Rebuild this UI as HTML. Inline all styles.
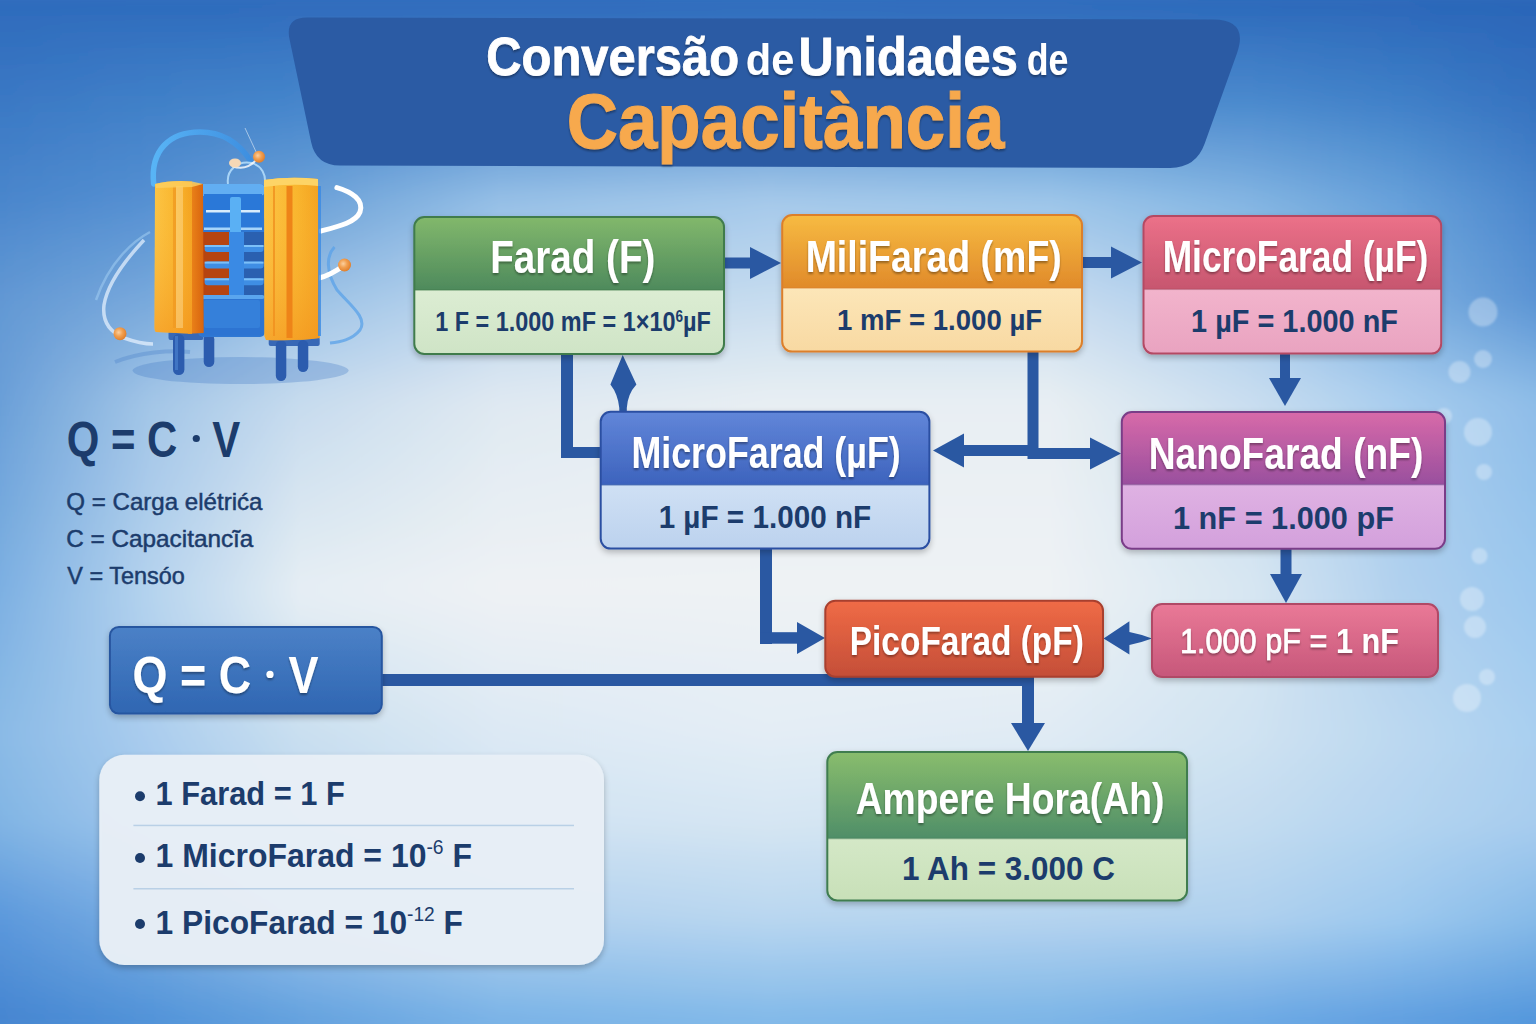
<!DOCTYPE html>
<html><head><meta charset="utf-8"><style>
html,body{margin:0;padding:0;width:1536px;height:1024px;overflow:hidden;background:#8dbbe6}
svg{display:block}
text{font-family:"Liberation Sans",sans-serif}
</style></head><body>
<svg width="1536" height="1024" viewBox="0 0 1536 1024">
<defs>
<linearGradient id="bgv" x1="0" y1="0" x2="0" y2="1024" gradientUnits="userSpaceOnUse">
 <stop offset="0" stop-color="#2b66b9"/>
 <stop offset="0.15" stop-color="#3f7ec8"/>
 <stop offset="0.35" stop-color="#6aa2dc"/>
 <stop offset="0.58" stop-color="#84b7e6"/>
 <stop offset="0.82" stop-color="#7ab2e6"/>
 <stop offset="1" stop-color="#4f91da"/>
</linearGradient>
<radialGradient id="bgr" cx="790" cy="555" r="800" gradientUnits="userSpaceOnUse" gradientTransform="translate(790 555) scale(1 0.7) translate(-790 -555)">
 <stop offset="0" stop-color="#f3f4f5" stop-opacity="1"/>
 <stop offset="0.4" stop-color="#eef2f5" stop-opacity="1"/>
 <stop offset="0.6" stop-color="#e4edf5" stop-opacity="0.8"/>
 <stop offset="0.8" stop-color="#d8e7f4" stop-opacity="0.4"/>
 <stop offset="1" stop-color="#d0e2f3" stop-opacity="0"/>
</radialGradient>
<filter id="sh" x="-10%" y="-10%" width="120%" height="130%">
 <feGaussianBlur in="SourceAlpha" stdDeviation="3"/>
 <feOffset dx="0" dy="3" result="b"/>
 <feComponentTransfer><feFuncA type="linear" slope="0.25"/></feComponentTransfer>
 <feMerge><feMergeNode/><feMergeNode in="SourceGraphic"/></feMerge>
</filter>
<filter id="tsh" x="-5%" y="-20%" width="110%" height="140%">
 <feGaussianBlur in="SourceAlpha" stdDeviation="1.2"/>
 <feOffset dx="0" dy="1.5" result="b"/>
 <feComponentTransfer><feFuncA type="linear" slope="0.35"/></feComponentTransfer>
 <feMerge><feMergeNode/><feMergeNode in="SourceGraphic"/></feMerge>
</filter>

<linearGradient id="bg0" x1="0" y1="0" x2="1536" y2="0" gradientUnits="userSpaceOnUse"><stop offset="0.0000" stop-color="#2e6bbc"/><stop offset="0.0977" stop-color="#2e6bbc"/><stop offset="0.1953" stop-color="#2e6bbc"/><stop offset="0.3255" stop-color="#2e6bbc"/><stop offset="0.5000" stop-color="#2f6cbd"/><stop offset="0.6836" stop-color="#2e6bbc"/><stop offset="0.8138" stop-color="#2c69ba"/><stop offset="0.9115" stop-color="#2b67b9"/><stop offset="1.0000" stop-color="#2a65b7"/></linearGradient>
<linearGradient id="bg1" x1="0" y1="0" x2="1536" y2="0" gradientUnits="userSpaceOnUse"><stop offset="0.0000" stop-color="#2f6cbd"/><stop offset="0.0977" stop-color="#2f6dbd"/><stop offset="0.1953" stop-color="#306dbd"/><stop offset="0.3255" stop-color="#306dbd"/><stop offset="0.5000" stop-color="#316ebe"/><stop offset="0.6836" stop-color="#306dbd"/><stop offset="0.8138" stop-color="#2e6cbc"/><stop offset="0.9115" stop-color="#2d69ba"/><stop offset="1.0000" stop-color="#2b66b8"/></linearGradient>
<linearGradient id="bg2" x1="0" y1="0" x2="1536" y2="0" gradientUnits="userSpaceOnUse"><stop offset="0.0000" stop-color="#316ebe"/><stop offset="0.0977" stop-color="#3270bf"/><stop offset="0.1953" stop-color="#3471c0"/><stop offset="0.3255" stop-color="#3572c0"/><stop offset="0.5000" stop-color="#3673c1"/><stop offset="0.6836" stop-color="#3572c0"/><stop offset="0.8138" stop-color="#3371bf"/><stop offset="0.9115" stop-color="#306dbd"/><stop offset="1.0000" stop-color="#2d68b9"/></linearGradient>
<linearGradient id="bg3" x1="0" y1="0" x2="1536" y2="0" gradientUnits="userSpaceOnUse"><stop offset="0.0000" stop-color="#3370bf"/><stop offset="0.0977" stop-color="#3573c1"/><stop offset="0.1953" stop-color="#3775c2"/><stop offset="0.3255" stop-color="#3977c2"/><stop offset="0.5000" stop-color="#3b78c3"/><stop offset="0.6836" stop-color="#3a77c3"/><stop offset="0.8138" stop-color="#3876c2"/><stop offset="0.9115" stop-color="#3371bf"/><stop offset="1.0000" stop-color="#2e6abb"/></linearGradient>
<linearGradient id="bg4" x1="0" y1="0" x2="1536" y2="0" gradientUnits="userSpaceOnUse"><stop offset="0.0000" stop-color="#3572c0"/><stop offset="0.0977" stop-color="#3877c3"/><stop offset="0.1953" stop-color="#3b7ac4"/><stop offset="0.3255" stop-color="#3e7bc5"/><stop offset="0.5000" stop-color="#3f7dc6"/><stop offset="0.6836" stop-color="#3f7cc6"/><stop offset="0.8138" stop-color="#3d7bc5"/><stop offset="0.9115" stop-color="#3675c1"/><stop offset="1.0000" stop-color="#306cbc"/></linearGradient>
<linearGradient id="bg5" x1="0" y1="0" x2="1536" y2="0" gradientUnits="userSpaceOnUse"><stop offset="0.0000" stop-color="#3774c2"/><stop offset="0.0977" stop-color="#3b7ac5"/><stop offset="0.1953" stop-color="#3f7ec7"/><stop offset="0.3255" stop-color="#4280c8"/><stop offset="0.5000" stop-color="#4482c9"/><stop offset="0.6836" stop-color="#4481c8"/><stop offset="0.8138" stop-color="#4280c8"/><stop offset="0.9115" stop-color="#3979c4"/><stop offset="1.0000" stop-color="#326ebd"/></linearGradient>
<linearGradient id="bg6" x1="0" y1="0" x2="1536" y2="0" gradientUnits="userSpaceOnUse"><stop offset="0.0000" stop-color="#3976c3"/><stop offset="0.0977" stop-color="#3e7dc7"/><stop offset="0.1953" stop-color="#4282c9"/><stop offset="0.3255" stop-color="#4785ca"/><stop offset="0.5000" stop-color="#4986cb"/><stop offset="0.6836" stop-color="#4886cb"/><stop offset="0.8138" stop-color="#4685cb"/><stop offset="0.9115" stop-color="#3d7dc6"/><stop offset="1.0000" stop-color="#3470bf"/></linearGradient>
<linearGradient id="bg7" x1="0" y1="0" x2="1536" y2="0" gradientUnits="userSpaceOnUse"><stop offset="0.0000" stop-color="#3b79c4"/><stop offset="0.0977" stop-color="#4181c8"/><stop offset="0.1953" stop-color="#4686cc"/><stop offset="0.3255" stop-color="#4d8acd"/><stop offset="0.5000" stop-color="#508dce"/><stop offset="0.6836" stop-color="#4f8cce"/><stop offset="0.8138" stop-color="#4c8bce"/><stop offset="0.9115" stop-color="#4181c9"/><stop offset="1.0000" stop-color="#3673c0"/></linearGradient>
<linearGradient id="bg8" x1="0" y1="0" x2="1536" y2="0" gradientUnits="userSpaceOnUse"><stop offset="0.0000" stop-color="#3d7bc6"/><stop offset="0.0977" stop-color="#4483ca"/><stop offset="0.1953" stop-color="#4c8ace"/><stop offset="0.3255" stop-color="#5993d1"/><stop offset="0.5000" stop-color="#5e97d3"/><stop offset="0.6836" stop-color="#5c96d3"/><stop offset="0.8138" stop-color="#5592d1"/><stop offset="0.9115" stop-color="#4786cc"/><stop offset="1.0000" stop-color="#3976c2"/></linearGradient>
<linearGradient id="bg9" x1="0" y1="0" x2="1536" y2="0" gradientUnits="userSpaceOnUse"><stop offset="0.0000" stop-color="#407dc7"/><stop offset="0.0977" stop-color="#4886cc"/><stop offset="0.1953" stop-color="#528fd0"/><stop offset="0.3255" stop-color="#659cd5"/><stop offset="0.5000" stop-color="#6ca1d7"/><stop offset="0.6836" stop-color="#699fd7"/><stop offset="0.8138" stop-color="#5e98d5"/><stop offset="0.9115" stop-color="#4d8cce"/><stop offset="1.0000" stop-color="#3d79c4"/></linearGradient>
<linearGradient id="bg10" x1="0" y1="0" x2="1536" y2="0" gradientUnits="userSpaceOnUse"><stop offset="0.0000" stop-color="#427fc8"/><stop offset="0.0977" stop-color="#4b88cd"/><stop offset="0.1953" stop-color="#5893d2"/><stop offset="0.3255" stop-color="#71a5da"/><stop offset="0.5000" stop-color="#7aabdc"/><stop offset="0.6836" stop-color="#76a9dc"/><stop offset="0.8138" stop-color="#679fd8"/><stop offset="0.9115" stop-color="#5391d1"/><stop offset="1.0000" stop-color="#407cc6"/></linearGradient>
<linearGradient id="bg11" x1="0" y1="0" x2="1536" y2="0" gradientUnits="userSpaceOnUse"><stop offset="0.0000" stop-color="#4582c9"/><stop offset="0.0977" stop-color="#4e8bcf"/><stop offset="0.1953" stop-color="#5e97d4"/><stop offset="0.3255" stop-color="#7dadde"/><stop offset="0.5000" stop-color="#89b5e1"/><stop offset="0.6836" stop-color="#82b2e0"/><stop offset="0.8138" stop-color="#70a6db"/><stop offset="0.9115" stop-color="#5a96d4"/><stop offset="1.0000" stop-color="#4380c8"/></linearGradient>
<linearGradient id="bg12" x1="0" y1="0" x2="1536" y2="0" gradientUnits="userSpaceOnUse"><stop offset="0.0000" stop-color="#4784cb"/><stop offset="0.0977" stop-color="#528dd0"/><stop offset="0.1953" stop-color="#649cd6"/><stop offset="0.3255" stop-color="#89b6e2"/><stop offset="0.5000" stop-color="#97bfe5"/><stop offset="0.6836" stop-color="#8fbce5"/><stop offset="0.8138" stop-color="#79addf"/><stop offset="0.9115" stop-color="#609bd7"/><stop offset="1.0000" stop-color="#4783ca"/></linearGradient>
<linearGradient id="bg13" x1="0" y1="0" x2="1536" y2="0" gradientUnits="userSpaceOnUse"><stop offset="0.0000" stop-color="#4a86cc"/><stop offset="0.0977" stop-color="#5590d2"/><stop offset="0.1953" stop-color="#6aa0d8"/><stop offset="0.3255" stop-color="#95bfe6"/><stop offset="0.5000" stop-color="#a5c9ea"/><stop offset="0.6836" stop-color="#9cc5e9"/><stop offset="0.8138" stop-color="#82b4e2"/><stop offset="0.9115" stop-color="#66a0da"/><stop offset="1.0000" stop-color="#4a86cc"/></linearGradient>
<linearGradient id="bg14" x1="0" y1="0" x2="1536" y2="0" gradientUnits="userSpaceOnUse"><stop offset="0.0000" stop-color="#4e89cd"/><stop offset="0.0977" stop-color="#5b94d4"/><stop offset="0.1953" stop-color="#72a5da"/><stop offset="0.3255" stop-color="#9bc3e7"/><stop offset="0.5000" stop-color="#aacceb"/><stop offset="0.6836" stop-color="#a3c9ea"/><stop offset="0.8138" stop-color="#88b8e3"/><stop offset="0.9115" stop-color="#6aa3db"/><stop offset="1.0000" stop-color="#4d88cd"/></linearGradient>
<linearGradient id="bg15" x1="0" y1="0" x2="1536" y2="0" gradientUnits="userSpaceOnUse"><stop offset="0.0000" stop-color="#528ccf"/><stop offset="0.0977" stop-color="#6098d5"/><stop offset="0.1953" stop-color="#7aabdc"/><stop offset="0.3255" stop-color="#a1c6e9"/><stop offset="0.5000" stop-color="#b0cfec"/><stop offset="0.6836" stop-color="#aacceb"/><stop offset="0.8138" stop-color="#8ebbe5"/><stop offset="0.9115" stop-color="#6da5dc"/><stop offset="1.0000" stop-color="#4f8acf"/></linearGradient>
<linearGradient id="bg16" x1="0" y1="0" x2="1536" y2="0" gradientUnits="userSpaceOnUse"><stop offset="0.0000" stop-color="#568fd0"/><stop offset="0.0977" stop-color="#669cd7"/><stop offset="0.1953" stop-color="#82b0df"/><stop offset="0.3255" stop-color="#a8caea"/><stop offset="0.5000" stop-color="#b5d2ec"/><stop offset="0.6836" stop-color="#b1d0ec"/><stop offset="0.8138" stop-color="#94bfe6"/><stop offset="0.9115" stop-color="#71a8dd"/><stop offset="1.0000" stop-color="#528dd0"/></linearGradient>
<linearGradient id="bg17" x1="0" y1="0" x2="1536" y2="0" gradientUnits="userSpaceOnUse"><stop offset="0.0000" stop-color="#5992d1"/><stop offset="0.0977" stop-color="#6ba0d8"/><stop offset="0.1953" stop-color="#8ab6e1"/><stop offset="0.3255" stop-color="#aeceeb"/><stop offset="0.5000" stop-color="#bad5ed"/><stop offset="0.6836" stop-color="#b8d4ed"/><stop offset="0.8138" stop-color="#9ac3e7"/><stop offset="0.9115" stop-color="#75aade"/><stop offset="1.0000" stop-color="#558fd1"/></linearGradient>
<linearGradient id="bg18" x1="0" y1="0" x2="1536" y2="0" gradientUnits="userSpaceOnUse"><stop offset="0.0000" stop-color="#5d94d2"/><stop offset="0.0977" stop-color="#71a4da"/><stop offset="0.1953" stop-color="#92bbe3"/><stop offset="0.3255" stop-color="#b4d1ec"/><stop offset="0.5000" stop-color="#bfd8ee"/><stop offset="0.6836" stop-color="#bfd7ef"/><stop offset="0.8138" stop-color="#a0c6e8"/><stop offset="0.9115" stop-color="#78addf"/><stop offset="1.0000" stop-color="#5891d2"/></linearGradient>
<linearGradient id="bg19" x1="0" y1="0" x2="1536" y2="0" gradientUnits="userSpaceOnUse"><stop offset="0.0000" stop-color="#6197d4"/><stop offset="0.0977" stop-color="#77a8dc"/><stop offset="0.1953" stop-color="#9ac1e5"/><stop offset="0.3255" stop-color="#bad5ee"/><stop offset="0.5000" stop-color="#c5dbef"/><stop offset="0.6836" stop-color="#c6dbf0"/><stop offset="0.8138" stop-color="#a6caea"/><stop offset="0.9115" stop-color="#7cafe0"/><stop offset="1.0000" stop-color="#5a93d4"/></linearGradient>
<linearGradient id="bg20" x1="0" y1="0" x2="1536" y2="0" gradientUnits="userSpaceOnUse"><stop offset="0.0000" stop-color="#6399d4"/><stop offset="0.0977" stop-color="#7dacdd"/><stop offset="0.1953" stop-color="#a1c5e7"/><stop offset="0.3255" stop-color="#c0d8ee"/><stop offset="0.5000" stop-color="#cadeef"/><stop offset="0.6836" stop-color="#ccdef0"/><stop offset="0.8138" stop-color="#accdeb"/><stop offset="0.9115" stop-color="#82b3e2"/><stop offset="1.0000" stop-color="#6199d6"/></linearGradient>
<linearGradient id="bg21" x1="0" y1="0" x2="1536" y2="0" gradientUnits="userSpaceOnUse"><stop offset="0.0000" stop-color="#649ad5"/><stop offset="0.0977" stop-color="#84b1df"/><stop offset="0.1953" stop-color="#a8c9e8"/><stop offset="0.3255" stop-color="#c6dbef"/><stop offset="0.5000" stop-color="#d0e1f0"/><stop offset="0.6836" stop-color="#d1e1f1"/><stop offset="0.8138" stop-color="#b1d0ec"/><stop offset="0.9115" stop-color="#89b8e4"/><stop offset="1.0000" stop-color="#699fda"/></linearGradient>
<linearGradient id="bg22" x1="0" y1="0" x2="1536" y2="0" gradientUnits="userSpaceOnUse"><stop offset="0.0000" stop-color="#669bd6"/><stop offset="0.0977" stop-color="#8ab5e1"/><stop offset="0.1953" stop-color="#aecdea"/><stop offset="0.3255" stop-color="#cbdef0"/><stop offset="0.5000" stop-color="#d5e4f1"/><stop offset="0.6836" stop-color="#d6e4f1"/><stop offset="0.8138" stop-color="#b7d3ed"/><stop offset="0.9115" stop-color="#90bde6"/><stop offset="1.0000" stop-color="#71a6dd"/></linearGradient>
<linearGradient id="bg23" x1="0" y1="0" x2="1536" y2="0" gradientUnits="userSpaceOnUse"><stop offset="0.0000" stop-color="#679cd6"/><stop offset="0.0977" stop-color="#91bae3"/><stop offset="0.1953" stop-color="#b5d1eb"/><stop offset="0.3255" stop-color="#d1e1f0"/><stop offset="0.5000" stop-color="#dae7f1"/><stop offset="0.6836" stop-color="#dbe7f2"/><stop offset="0.8138" stop-color="#bcd6ee"/><stop offset="0.9115" stop-color="#97c1e8"/><stop offset="1.0000" stop-color="#7aade0"/></linearGradient>
<linearGradient id="bg24" x1="0" y1="0" x2="1536" y2="0" gradientUnits="userSpaceOnUse"><stop offset="0.0000" stop-color="#689dd7"/><stop offset="0.0977" stop-color="#98bee4"/><stop offset="0.1953" stop-color="#bcd5ec"/><stop offset="0.3255" stop-color="#d7e4f1"/><stop offset="0.5000" stop-color="#e0eaf2"/><stop offset="0.6836" stop-color="#e0eaf2"/><stop offset="0.8138" stop-color="#c1d9ef"/><stop offset="0.9115" stop-color="#9ec6eb"/><stop offset="1.0000" stop-color="#82b3e3"/></linearGradient>
<linearGradient id="bg25" x1="0" y1="0" x2="1536" y2="0" gradientUnits="userSpaceOnUse"><stop offset="0.0000" stop-color="#699ed8"/><stop offset="0.0977" stop-color="#9fc3e6"/><stop offset="0.1953" stop-color="#c3d9ed"/><stop offset="0.3255" stop-color="#dce7f2"/><stop offset="0.5000" stop-color="#e5edf3"/><stop offset="0.6836" stop-color="#e5edf3"/><stop offset="0.8138" stop-color="#c6dcf0"/><stop offset="0.9115" stop-color="#a5cbed"/><stop offset="1.0000" stop-color="#8abae6"/></linearGradient>
<linearGradient id="bg26" x1="0" y1="0" x2="1536" y2="0" gradientUnits="userSpaceOnUse"><stop offset="0.0000" stop-color="#6ba0d8"/><stop offset="0.0977" stop-color="#a3c6e7"/><stop offset="0.1953" stop-color="#c7dcee"/><stop offset="0.3255" stop-color="#e0e9f2"/><stop offset="0.5000" stop-color="#e8eef3"/><stop offset="0.6836" stop-color="#e8eef3"/><stop offset="0.8138" stop-color="#cadef0"/><stop offset="0.9115" stop-color="#a8cdee"/><stop offset="1.0000" stop-color="#8fbde8"/></linearGradient>
<linearGradient id="bg27" x1="0" y1="0" x2="1536" y2="0" gradientUnits="userSpaceOnUse"><stop offset="0.0000" stop-color="#6ca1d9"/><stop offset="0.0977" stop-color="#a4c7e8"/><stop offset="0.1953" stop-color="#caddef"/><stop offset="0.3255" stop-color="#e1eaf2"/><stop offset="0.5000" stop-color="#e9eff3"/><stop offset="0.6836" stop-color="#e9eff3"/><stop offset="0.8138" stop-color="#cbdff0"/><stop offset="0.9115" stop-color="#a9cdee"/><stop offset="1.0000" stop-color="#90bee9"/></linearGradient>
<linearGradient id="bg28" x1="0" y1="0" x2="1536" y2="0" gradientUnits="userSpaceOnUse"><stop offset="0.0000" stop-color="#6ea3da"/><stop offset="0.0977" stop-color="#a6c8e8"/><stop offset="0.1953" stop-color="#cddfef"/><stop offset="0.3255" stop-color="#e2ebf2"/><stop offset="0.5000" stop-color="#e9eff3"/><stop offset="0.6836" stop-color="#e9eff3"/><stop offset="0.8138" stop-color="#cce0f0"/><stop offset="0.9115" stop-color="#aaceee"/><stop offset="1.0000" stop-color="#91bfe9"/></linearGradient>
<linearGradient id="bg29" x1="0" y1="0" x2="1536" y2="0" gradientUnits="userSpaceOnUse"><stop offset="0.0000" stop-color="#70a4db"/><stop offset="0.0977" stop-color="#a8c9e9"/><stop offset="0.1953" stop-color="#cfe1f0"/><stop offset="0.3255" stop-color="#e3ecf3"/><stop offset="0.5000" stop-color="#eaeff3"/><stop offset="0.6836" stop-color="#eaeff3"/><stop offset="0.8138" stop-color="#cde0f1"/><stop offset="0.9115" stop-color="#aaceee"/><stop offset="1.0000" stop-color="#92c0ea"/></linearGradient>
<linearGradient id="bg30" x1="0" y1="0" x2="1536" y2="0" gradientUnits="userSpaceOnUse"><stop offset="0.0000" stop-color="#71a5dc"/><stop offset="0.0977" stop-color="#a9caea"/><stop offset="0.1953" stop-color="#d2e2f0"/><stop offset="0.3255" stop-color="#e5ecf3"/><stop offset="0.5000" stop-color="#eaf0f3"/><stop offset="0.6836" stop-color="#eaf0f3"/><stop offset="0.8138" stop-color="#cee1f1"/><stop offset="0.9115" stop-color="#abceee"/><stop offset="1.0000" stop-color="#93c1ea"/></linearGradient>
<linearGradient id="bg31" x1="0" y1="0" x2="1536" y2="0" gradientUnits="userSpaceOnUse"><stop offset="0.0000" stop-color="#73a7dd"/><stop offset="0.0977" stop-color="#abcbea"/><stop offset="0.1953" stop-color="#d5e4f1"/><stop offset="0.3255" stop-color="#e6edf3"/><stop offset="0.5000" stop-color="#ebf0f3"/><stop offset="0.6836" stop-color="#ebf0f3"/><stop offset="0.8138" stop-color="#cfe2f1"/><stop offset="0.9115" stop-color="#acceee"/><stop offset="1.0000" stop-color="#94c2eb"/></linearGradient>
<linearGradient id="bg32" x1="0" y1="0" x2="1536" y2="0" gradientUnits="userSpaceOnUse"><stop offset="0.0000" stop-color="#74a8dd"/><stop offset="0.0977" stop-color="#accdeb"/><stop offset="0.1953" stop-color="#d8e5f1"/><stop offset="0.3255" stop-color="#e7eef3"/><stop offset="0.5000" stop-color="#ebf0f4"/><stop offset="0.6836" stop-color="#ebf0f4"/><stop offset="0.8138" stop-color="#d1e2f1"/><stop offset="0.9115" stop-color="#accfee"/><stop offset="1.0000" stop-color="#96c3eb"/></linearGradient>
<linearGradient id="bg33" x1="0" y1="0" x2="1536" y2="0" gradientUnits="userSpaceOnUse"><stop offset="0.0000" stop-color="#76aade"/><stop offset="0.0977" stop-color="#aeceeb"/><stop offset="0.1953" stop-color="#dae7f2"/><stop offset="0.3255" stop-color="#e8eff3"/><stop offset="0.5000" stop-color="#ecf1f4"/><stop offset="0.6836" stop-color="#ecf1f4"/><stop offset="0.8138" stop-color="#d2e3f1"/><stop offset="0.9115" stop-color="#adcfee"/><stop offset="1.0000" stop-color="#97c4ec"/></linearGradient>
<linearGradient id="bg34" x1="0" y1="0" x2="1536" y2="0" gradientUnits="userSpaceOnUse"><stop offset="0.0000" stop-color="#78abdf"/><stop offset="0.0977" stop-color="#b0cfec"/><stop offset="0.1953" stop-color="#dde9f2"/><stop offset="0.3255" stop-color="#eaeff3"/><stop offset="0.5000" stop-color="#ecf1f4"/><stop offset="0.6836" stop-color="#ecf1f4"/><stop offset="0.8138" stop-color="#d3e4f1"/><stop offset="0.9115" stop-color="#aecfee"/><stop offset="1.0000" stop-color="#98c5ec"/></linearGradient>
<linearGradient id="bg35" x1="0" y1="0" x2="1536" y2="0" gradientUnits="userSpaceOnUse"><stop offset="0.0000" stop-color="#79ade0"/><stop offset="0.0977" stop-color="#b1d0ed"/><stop offset="0.1953" stop-color="#e0eaf3"/><stop offset="0.3255" stop-color="#ebf0f4"/><stop offset="0.5000" stop-color="#edf1f4"/><stop offset="0.6836" stop-color="#edf1f4"/><stop offset="0.8138" stop-color="#d4e4f2"/><stop offset="0.9115" stop-color="#aecfee"/><stop offset="1.0000" stop-color="#99c6ed"/></linearGradient>
<linearGradient id="bg36" x1="0" y1="0" x2="1536" y2="0" gradientUnits="userSpaceOnUse"><stop offset="0.0000" stop-color="#7baee1"/><stop offset="0.0977" stop-color="#b3d1ed"/><stop offset="0.1953" stop-color="#e2ecf3"/><stop offset="0.3255" stop-color="#ecf1f4"/><stop offset="0.5000" stop-color="#edf2f4"/><stop offset="0.6836" stop-color="#edf2f4"/><stop offset="0.8138" stop-color="#d5e5f2"/><stop offset="0.9115" stop-color="#afd0ee"/><stop offset="1.0000" stop-color="#9ac7ed"/></linearGradient>
<linearGradient id="bg37" x1="0" y1="0" x2="1536" y2="0" gradientUnits="userSpaceOnUse"><stop offset="0.0000" stop-color="#7cafe2"/><stop offset="0.0977" stop-color="#b4d3ee"/><stop offset="0.1953" stop-color="#e5edf4"/><stop offset="0.3255" stop-color="#eef2f4"/><stop offset="0.5000" stop-color="#eef2f4"/><stop offset="0.6836" stop-color="#eef2f4"/><stop offset="0.8138" stop-color="#d7e6f2"/><stop offset="0.9115" stop-color="#b0d0ee"/><stop offset="1.0000" stop-color="#9cc8ee"/></linearGradient>
<linearGradient id="bg38" x1="0" y1="0" x2="1536" y2="0" gradientUnits="userSpaceOnUse"><stop offset="0.0000" stop-color="#7eb1e2"/><stop offset="0.0977" stop-color="#b4d3ee"/><stop offset="0.1953" stop-color="#e4edf4"/><stop offset="0.3255" stop-color="#edf1f4"/><stop offset="0.5000" stop-color="#edf2f4"/><stop offset="0.6836" stop-color="#edf2f4"/><stop offset="0.8138" stop-color="#d7e6f2"/><stop offset="0.9115" stop-color="#b1d1ee"/><stop offset="1.0000" stop-color="#9dc8ee"/></linearGradient>
<linearGradient id="bg39" x1="0" y1="0" x2="1536" y2="0" gradientUnits="userSpaceOnUse"><stop offset="0.0000" stop-color="#80b2e3"/><stop offset="0.0977" stop-color="#b3d2ee"/><stop offset="0.1953" stop-color="#e1ebf3"/><stop offset="0.3255" stop-color="#ebf0f4"/><stop offset="0.5000" stop-color="#ecf1f4"/><stop offset="0.6836" stop-color="#ebf1f4"/><stop offset="0.8138" stop-color="#d6e5f2"/><stop offset="0.9115" stop-color="#b2d1ee"/><stop offset="1.0000" stop-color="#9ec9ee"/></linearGradient>
<linearGradient id="bg40" x1="0" y1="0" x2="1536" y2="0" gradientUnits="userSpaceOnUse"><stop offset="0.0000" stop-color="#81b3e3"/><stop offset="0.0977" stop-color="#b2d1ee"/><stop offset="0.1953" stop-color="#deeaf3"/><stop offset="0.3255" stop-color="#e9eff4"/><stop offset="0.5000" stop-color="#ebf1f4"/><stop offset="0.6836" stop-color="#eaf0f4"/><stop offset="0.8138" stop-color="#d5e5f2"/><stop offset="0.9115" stop-color="#b3d2ef"/><stop offset="1.0000" stop-color="#a0caef"/></linearGradient>
<linearGradient id="bg41" x1="0" y1="0" x2="1536" y2="0" gradientUnits="userSpaceOnUse"><stop offset="0.0000" stop-color="#83b4e4"/><stop offset="0.0977" stop-color="#b1d1ee"/><stop offset="0.1953" stop-color="#dae8f2"/><stop offset="0.3255" stop-color="#e7eef4"/><stop offset="0.5000" stop-color="#eaf0f4"/><stop offset="0.6836" stop-color="#e8eff4"/><stop offset="0.8138" stop-color="#d4e5f2"/><stop offset="0.9115" stop-color="#b5d3ef"/><stop offset="1.0000" stop-color="#a1cbef"/></linearGradient>
<linearGradient id="bg42" x1="0" y1="0" x2="1536" y2="0" gradientUnits="userSpaceOnUse"><stop offset="0.0000" stop-color="#84b6e4"/><stop offset="0.0977" stop-color="#afd0ee"/><stop offset="0.1953" stop-color="#d7e6f2"/><stop offset="0.3255" stop-color="#e5edf4"/><stop offset="0.5000" stop-color="#e8eff5"/><stop offset="0.6836" stop-color="#e7eef4"/><stop offset="0.8138" stop-color="#d3e4f2"/><stop offset="0.9115" stop-color="#b6d4ef"/><stop offset="1.0000" stop-color="#a3ccef"/></linearGradient>
<linearGradient id="bg43" x1="0" y1="0" x2="1536" y2="0" gradientUnits="userSpaceOnUse"><stop offset="0.0000" stop-color="#86b7e4"/><stop offset="0.0977" stop-color="#aecfee"/><stop offset="0.1953" stop-color="#d4e5f2"/><stop offset="0.3255" stop-color="#e3ecf4"/><stop offset="0.5000" stop-color="#e7eff5"/><stop offset="0.6836" stop-color="#e5eef4"/><stop offset="0.8138" stop-color="#d3e4f2"/><stop offset="0.9115" stop-color="#b7d5ef"/><stop offset="1.0000" stop-color="#a4ccef"/></linearGradient>
<linearGradient id="bg44" x1="0" y1="0" x2="1536" y2="0" gradientUnits="userSpaceOnUse"><stop offset="0.0000" stop-color="#87b8e5"/><stop offset="0.0977" stop-color="#adcfee"/><stop offset="0.1953" stop-color="#d1e3f1"/><stop offset="0.3255" stop-color="#e1ebf4"/><stop offset="0.5000" stop-color="#e6eef5"/><stop offset="0.6836" stop-color="#e4edf4"/><stop offset="0.8138" stop-color="#d2e4f2"/><stop offset="0.9115" stop-color="#b9d6ef"/><stop offset="1.0000" stop-color="#a6cdef"/></linearGradient>
<linearGradient id="bg45" x1="0" y1="0" x2="1536" y2="0" gradientUnits="userSpaceOnUse"><stop offset="0.0000" stop-color="#89b9e5"/><stop offset="0.0977" stop-color="#acceee"/><stop offset="0.1953" stop-color="#cee1f1"/><stop offset="0.3255" stop-color="#dfeaf4"/><stop offset="0.5000" stop-color="#e5eef5"/><stop offset="0.6836" stop-color="#e2ecf4"/><stop offset="0.8138" stop-color="#d1e3f2"/><stop offset="0.9115" stop-color="#bad7f0"/><stop offset="1.0000" stop-color="#a7cef0"/></linearGradient>
<linearGradient id="bg46" x1="0" y1="0" x2="1536" y2="0" gradientUnits="userSpaceOnUse"><stop offset="0.0000" stop-color="#8abae6"/><stop offset="0.0977" stop-color="#abcdee"/><stop offset="0.1953" stop-color="#cae0f0"/><stop offset="0.3255" stop-color="#dde9f4"/><stop offset="0.5000" stop-color="#e4edf5"/><stop offset="0.6836" stop-color="#e1ebf4"/><stop offset="0.8138" stop-color="#d0e3f2"/><stop offset="0.9115" stop-color="#bbd8f0"/><stop offset="1.0000" stop-color="#a8cff0"/></linearGradient>
<linearGradient id="bg47" x1="0" y1="0" x2="1536" y2="0" gradientUnits="userSpaceOnUse"><stop offset="0.0000" stop-color="#8abae6"/><stop offset="0.0977" stop-color="#a9ccee"/><stop offset="0.1953" stop-color="#c8def0"/><stop offset="0.3255" stop-color="#dbe8f4"/><stop offset="0.5000" stop-color="#e2ecf5"/><stop offset="0.6836" stop-color="#deeaf4"/><stop offset="0.8138" stop-color="#cfe2f2"/><stop offset="0.9115" stop-color="#bbd8f0"/><stop offset="1.0000" stop-color="#a9cff0"/></linearGradient>
<linearGradient id="bg48" x1="0" y1="0" x2="1536" y2="0" gradientUnits="userSpaceOnUse"><stop offset="0.0000" stop-color="#88b9e5"/><stop offset="0.0977" stop-color="#a7cbed"/><stop offset="0.1953" stop-color="#c5ddf0"/><stop offset="0.3255" stop-color="#d8e7f4"/><stop offset="0.5000" stop-color="#dfebf4"/><stop offset="0.6836" stop-color="#dbe9f3"/><stop offset="0.8138" stop-color="#cce1f1"/><stop offset="0.9115" stop-color="#bad7f0"/><stop offset="1.0000" stop-color="#a9ceef"/></linearGradient>
<linearGradient id="bg49" x1="0" y1="0" x2="1536" y2="0" gradientUnits="userSpaceOnUse"><stop offset="0.0000" stop-color="#87b8e5"/><stop offset="0.0977" stop-color="#a5caed"/><stop offset="0.1953" stop-color="#c3dbf0"/><stop offset="0.3255" stop-color="#d6e6f4"/><stop offset="0.5000" stop-color="#ddeaf4"/><stop offset="0.6836" stop-color="#d8e8f3"/><stop offset="0.8138" stop-color="#cae0f1"/><stop offset="0.9115" stop-color="#b8d6f0"/><stop offset="1.0000" stop-color="#a9ceef"/></linearGradient>
<linearGradient id="bg50" x1="0" y1="0" x2="1536" y2="0" gradientUnits="userSpaceOnUse"><stop offset="0.0000" stop-color="#85b7e5"/><stop offset="0.0977" stop-color="#a3c8ed"/><stop offset="0.1953" stop-color="#c0daf0"/><stop offset="0.3255" stop-color="#d4e5f3"/><stop offset="0.5000" stop-color="#dae8f4"/><stop offset="0.6836" stop-color="#d5e6f3"/><stop offset="0.8138" stop-color="#c8def1"/><stop offset="0.9115" stop-color="#b7d5f0"/><stop offset="1.0000" stop-color="#a8ceef"/></linearGradient>
<linearGradient id="bg51" x1="0" y1="0" x2="1536" y2="0" gradientUnits="userSpaceOnUse"><stop offset="0.0000" stop-color="#83b6e4"/><stop offset="0.0977" stop-color="#a1c7ec"/><stop offset="0.1953" stop-color="#bed8f0"/><stop offset="0.3255" stop-color="#d2e4f3"/><stop offset="0.5000" stop-color="#d8e7f3"/><stop offset="0.6836" stop-color="#d2e5f2"/><stop offset="0.8138" stop-color="#c6ddf0"/><stop offset="0.9115" stop-color="#b5d5f0"/><stop offset="1.0000" stop-color="#a8cdee"/></linearGradient>
<linearGradient id="bg52" x1="0" y1="0" x2="1536" y2="0" gradientUnits="userSpaceOnUse"><stop offset="0.0000" stop-color="#80b4e4"/><stop offset="0.0977" stop-color="#9dc5ec"/><stop offset="0.1953" stop-color="#bbd6f0"/><stop offset="0.3255" stop-color="#cfe2f3"/><stop offset="0.5000" stop-color="#d5e5f3"/><stop offset="0.6836" stop-color="#cfe3f2"/><stop offset="0.8138" stop-color="#c3dcf0"/><stop offset="0.9115" stop-color="#b3d4f0"/><stop offset="1.0000" stop-color="#a7ccee"/></linearGradient>
<linearGradient id="bg53" x1="0" y1="0" x2="1536" y2="0" gradientUnits="userSpaceOnUse"><stop offset="0.0000" stop-color="#7aafe2"/><stop offset="0.0977" stop-color="#97c1ea"/><stop offset="0.1953" stop-color="#b5d3ef"/><stop offset="0.3255" stop-color="#cadff2"/><stop offset="0.5000" stop-color="#d0e3f2"/><stop offset="0.6836" stop-color="#cae1f1"/><stop offset="0.8138" stop-color="#c0daf0"/><stop offset="0.9115" stop-color="#afd2f0"/><stop offset="1.0000" stop-color="#a1c9ed"/></linearGradient>
<linearGradient id="bg54" x1="0" y1="0" x2="1536" y2="0" gradientUnits="userSpaceOnUse"><stop offset="0.0000" stop-color="#74abe1"/><stop offset="0.0977" stop-color="#91bde8"/><stop offset="0.1953" stop-color="#afcfee"/><stop offset="0.3255" stop-color="#c4dcf1"/><stop offset="0.5000" stop-color="#cbe0f2"/><stop offset="0.6836" stop-color="#c6def1"/><stop offset="0.8138" stop-color="#bcd8ef"/><stop offset="0.9115" stop-color="#abd0ef"/><stop offset="1.0000" stop-color="#9cc6ec"/></linearGradient>
<linearGradient id="bg55" x1="0" y1="0" x2="1536" y2="0" gradientUnits="userSpaceOnUse"><stop offset="0.0000" stop-color="#6ea6e0"/><stop offset="0.0977" stop-color="#8bb8e7"/><stop offset="0.1953" stop-color="#a9cced"/><stop offset="0.3255" stop-color="#bfd9f0"/><stop offset="0.5000" stop-color="#c6def1"/><stop offset="0.6836" stop-color="#c1dbf0"/><stop offset="0.8138" stop-color="#b9d6ef"/><stop offset="0.9115" stop-color="#a8ceef"/><stop offset="1.0000" stop-color="#96c3eb"/></linearGradient>
<linearGradient id="bg56" x1="0" y1="0" x2="1536" y2="0" gradientUnits="userSpaceOnUse"><stop offset="0.0000" stop-color="#67a1df"/><stop offset="0.0977" stop-color="#84b4e5"/><stop offset="0.1953" stop-color="#a4c9ec"/><stop offset="0.3255" stop-color="#bad6f0"/><stop offset="0.5000" stop-color="#c2dbf1"/><stop offset="0.6836" stop-color="#bdd8f0"/><stop offset="0.8138" stop-color="#b5d4ef"/><stop offset="0.9115" stop-color="#a4ccef"/><stop offset="1.0000" stop-color="#91c0ea"/></linearGradient>
<linearGradient id="bg57" x1="0" y1="0" x2="1536" y2="0" gradientUnits="userSpaceOnUse"><stop offset="0.0000" stop-color="#619ddd"/><stop offset="0.0977" stop-color="#7eb0e4"/><stop offset="0.1953" stop-color="#9ec5eb"/><stop offset="0.3255" stop-color="#b5d3ef"/><stop offset="0.5000" stop-color="#bdd9f0"/><stop offset="0.6836" stop-color="#b8d6ef"/><stop offset="0.8138" stop-color="#b2d2ee"/><stop offset="0.9115" stop-color="#a0caee"/><stop offset="1.0000" stop-color="#8bbde9"/></linearGradient>
<linearGradient id="bg58" x1="0" y1="0" x2="1536" y2="0" gradientUnits="userSpaceOnUse"><stop offset="0.0000" stop-color="#5b98dc"/><stop offset="0.0977" stop-color="#78ace2"/><stop offset="0.1953" stop-color="#98c2ea"/><stop offset="0.3255" stop-color="#b0d0ee"/><stop offset="0.5000" stop-color="#b8d6f0"/><stop offset="0.6836" stop-color="#b4d3ef"/><stop offset="0.8138" stop-color="#aed0ee"/><stop offset="0.9115" stop-color="#9cc8ee"/><stop offset="1.0000" stop-color="#86bae8"/></linearGradient>
<linearGradient id="bg59" x1="0" y1="0" x2="1536" y2="0" gradientUnits="userSpaceOnUse"><stop offset="0.0000" stop-color="#5895da"/><stop offset="0.0977" stop-color="#72a8e0"/><stop offset="0.1953" stop-color="#90bde8"/><stop offset="0.3255" stop-color="#a7cbed"/><stop offset="0.5000" stop-color="#afd1ef"/><stop offset="0.6836" stop-color="#abceee"/><stop offset="0.8138" stop-color="#a4caec"/><stop offset="0.9115" stop-color="#92c2ec"/><stop offset="1.0000" stop-color="#7eb4e6"/></linearGradient>
<linearGradient id="bg60" x1="0" y1="0" x2="1536" y2="0" gradientUnits="userSpaceOnUse"><stop offset="0.0000" stop-color="#5492d8"/><stop offset="0.0977" stop-color="#6ca4df"/><stop offset="0.1953" stop-color="#87b8e6"/><stop offset="0.3255" stop-color="#9fc7ec"/><stop offset="0.5000" stop-color="#a7cdee"/><stop offset="0.6836" stop-color="#a2c9ec"/><stop offset="0.8138" stop-color="#99c4eb"/><stop offset="0.9115" stop-color="#89bbea"/><stop offset="1.0000" stop-color="#76afe4"/></linearGradient>
<linearGradient id="bg61" x1="0" y1="0" x2="1536" y2="0" gradientUnits="userSpaceOnUse"><stop offset="0.0000" stop-color="#518fd6"/><stop offset="0.0977" stop-color="#66a0dd"/><stop offset="0.1953" stop-color="#7fb2e4"/><stop offset="0.3255" stop-color="#96c2ea"/><stop offset="0.5000" stop-color="#9ec8ec"/><stop offset="0.6836" stop-color="#99c5eb"/><stop offset="0.8138" stop-color="#8fbee9"/><stop offset="0.9115" stop-color="#7fb5e8"/><stop offset="1.0000" stop-color="#6ea9e2"/></linearGradient>
<linearGradient id="bg62" x1="0" y1="0" x2="1536" y2="0" gradientUnits="userSpaceOnUse"><stop offset="0.0000" stop-color="#4d8cd5"/><stop offset="0.0977" stop-color="#5f9cdc"/><stop offset="0.1953" stop-color="#77ade3"/><stop offset="0.3255" stop-color="#8ebee9"/><stop offset="0.5000" stop-color="#96c4eb"/><stop offset="0.6836" stop-color="#90c0e9"/><stop offset="0.8138" stop-color="#84b7e8"/><stop offset="0.9115" stop-color="#76aee5"/><stop offset="1.0000" stop-color="#66a4e1"/></linearGradient>
<linearGradient id="bg63" x1="0" y1="0" x2="1536" y2="0" gradientUnits="userSpaceOnUse"><stop offset="0.0000" stop-color="#4a89d3"/><stop offset="0.0977" stop-color="#5998da"/><stop offset="0.1953" stop-color="#6ea8e1"/><stop offset="0.3255" stop-color="#85b9e8"/><stop offset="0.5000" stop-color="#8dbfea"/><stop offset="0.6836" stop-color="#87bbe8"/><stop offset="0.8138" stop-color="#7ab1e6"/><stop offset="0.9115" stop-color="#6ca8e3"/><stop offset="1.0000" stop-color="#5e9edf"/></linearGradient>
<linearGradient id="bg64" x1="0" y1="0" x2="1536" y2="0" gradientUnits="userSpaceOnUse"><stop offset="0.0000" stop-color="#4786d1"/><stop offset="0.0977" stop-color="#5394d9"/><stop offset="0.1953" stop-color="#66a3df"/><stop offset="0.3255" stop-color="#7cb4e7"/><stop offset="0.5000" stop-color="#84bae9"/><stop offset="0.6836" stop-color="#7eb6e7"/><stop offset="0.8138" stop-color="#6fabe5"/><stop offset="0.9115" stop-color="#63a1e1"/><stop offset="1.0000" stop-color="#5699dd"/></linearGradient>
<linearGradient id="bg65" x1="0" y1="0" x2="1536" y2="0" gradientUnits="userSpaceOnUse"><stop offset="0.0000" stop-color="#4585d0"/><stop offset="0.0977" stop-color="#5092d8"/><stop offset="0.1953" stop-color="#62a0de"/><stop offset="0.3255" stop-color="#78b2e6"/><stop offset="0.5000" stop-color="#80b8e8"/><stop offset="0.6836" stop-color="#7ab4e6"/><stop offset="0.8138" stop-color="#6aa8e4"/><stop offset="0.9115" stop-color="#5e9ee0"/><stop offset="1.0000" stop-color="#5296dc"/></linearGradient>
<filter id="bgblur" x="-5%" y="-5%" width="110%" height="110%"><feGaussianBlur stdDeviation="1 9" edgeMode="duplicate"/></filter>
<filter id="bub" x="-50%" y="-50%" width="200%" height="200%"><feGaussianBlur stdDeviation="1.2"/></filter>
<clipPath id="c1000"><rect x="414.3" y="217" width="309.7" height="137" rx="10"/></clipPath>
<linearGradient id="g2" x1="0" y1="0" x2="0" y2="1"><stop offset="0" stop-color="#82b86c"/><stop offset="1" stop-color="#4e8a5c"/></linearGradient>
<linearGradient id="g3" x1="0" y1="0" x2="0" y2="1"><stop offset="0" stop-color="#dcedd3"/><stop offset="1" stop-color="#cfe4c6"/></linearGradient>
<clipPath id="c1003"><rect x="782.2" y="215" width="299.79999999999995" height="136.60000000000002" rx="10"/></clipPath>
<linearGradient id="g5" x1="0" y1="0" x2="0" y2="1"><stop offset="0" stop-color="#f7bb42"/><stop offset="1" stop-color="#e08a2a"/></linearGradient>
<linearGradient id="g6" x1="0" y1="0" x2="0" y2="1"><stop offset="0" stop-color="#fce6b8"/><stop offset="1" stop-color="#f8d9a2"/></linearGradient>
<clipPath id="c1006"><rect x="1143.5" y="216" width="297.70000000000005" height="137.60000000000002" rx="10"/></clipPath>
<linearGradient id="g8" x1="0" y1="0" x2="0" y2="1"><stop offset="0" stop-color="#ec7189"/><stop offset="1" stop-color="#c7566f"/></linearGradient>
<linearGradient id="g9" x1="0" y1="0" x2="0" y2="1"><stop offset="0" stop-color="#f2b4cc"/><stop offset="1" stop-color="#e9a3c0"/></linearGradient>
<clipPath id="c1009"><rect x="600.7" y="411.8" width="328.69999999999993" height="136.8" rx="10"/></clipPath>
<linearGradient id="g11" x1="0" y1="0" x2="0" y2="1"><stop offset="0" stop-color="#6186d9"/><stop offset="1" stop-color="#3d63bd"/></linearGradient>
<linearGradient id="g12" x1="0" y1="0" x2="0" y2="1"><stop offset="0" stop-color="#cfe0f4"/><stop offset="1" stop-color="#bcd2ee"/></linearGradient>
<clipPath id="c1012"><rect x="1121.8" y="412" width="323.20000000000005" height="136.79999999999995" rx="10"/></clipPath>
<linearGradient id="g14" x1="0" y1="0" x2="0" y2="1"><stop offset="0" stop-color="#d86aa9"/><stop offset="1" stop-color="#994f9e"/></linearGradient>
<linearGradient id="g15" x1="0" y1="0" x2="0" y2="1"><stop offset="0" stop-color="#dfb2e3"/><stop offset="1" stop-color="#d3a0dc"/></linearGradient>
<linearGradient id="g16" x1="0" y1="0" x2="0" y2="1"><stop offset="0" stop-color="#f06b46"/><stop offset="1" stop-color="#c44e38"/></linearGradient>
<linearGradient id="g17" x1="0" y1="0" x2="0" y2="1"><stop offset="0" stop-color="#ea7997"/><stop offset="1" stop-color="#c6577a"/></linearGradient>
<clipPath id="c1017"><rect x="827.3" y="752" width="359.70000000000005" height="148.5" rx="10"/></clipPath>
<linearGradient id="g19" x1="0" y1="0" x2="0" y2="1"><stop offset="0" stop-color="#89bd6d"/><stop offset="1" stop-color="#4f8e68"/></linearGradient>
<linearGradient id="g20" x1="0" y1="0" x2="0" y2="1"><stop offset="0" stop-color="#d4e8c7"/><stop offset="1" stop-color="#c8e0b8"/></linearGradient>
<linearGradient id="g21" x1="0" y1="0" x2="0" y2="1"><stop offset="0" stop-color="#4b81c7"/><stop offset="1" stop-color="#2f66b2"/></linearGradient></defs>
<g filter="url(#bgblur)"><rect x="-20" y="-16" width="1576" height="17" fill="url(#bg0)"/><rect x="-20" y="0" width="1576" height="17" fill="url(#bg1)"/><rect x="-20" y="16" width="1576" height="17" fill="url(#bg2)"/><rect x="-20" y="32" width="1576" height="17" fill="url(#bg3)"/><rect x="-20" y="48" width="1576" height="17" fill="url(#bg4)"/><rect x="-20" y="64" width="1576" height="17" fill="url(#bg5)"/><rect x="-20" y="80" width="1576" height="17" fill="url(#bg6)"/><rect x="-20" y="96" width="1576" height="17" fill="url(#bg7)"/><rect x="-20" y="112" width="1576" height="17" fill="url(#bg8)"/><rect x="-20" y="128" width="1576" height="17" fill="url(#bg9)"/><rect x="-20" y="144" width="1576" height="17" fill="url(#bg10)"/><rect x="-20" y="160" width="1576" height="17" fill="url(#bg11)"/><rect x="-20" y="176" width="1576" height="17" fill="url(#bg12)"/><rect x="-20" y="192" width="1576" height="17" fill="url(#bg13)"/><rect x="-20" y="208" width="1576" height="17" fill="url(#bg14)"/><rect x="-20" y="224" width="1576" height="17" fill="url(#bg15)"/><rect x="-20" y="240" width="1576" height="17" fill="url(#bg16)"/><rect x="-20" y="256" width="1576" height="17" fill="url(#bg17)"/><rect x="-20" y="272" width="1576" height="17" fill="url(#bg18)"/><rect x="-20" y="288" width="1576" height="17" fill="url(#bg19)"/><rect x="-20" y="304" width="1576" height="17" fill="url(#bg20)"/><rect x="-20" y="320" width="1576" height="17" fill="url(#bg21)"/><rect x="-20" y="336" width="1576" height="17" fill="url(#bg22)"/><rect x="-20" y="352" width="1576" height="17" fill="url(#bg23)"/><rect x="-20" y="368" width="1576" height="17" fill="url(#bg24)"/><rect x="-20" y="384" width="1576" height="17" fill="url(#bg25)"/><rect x="-20" y="400" width="1576" height="17" fill="url(#bg26)"/><rect x="-20" y="416" width="1576" height="17" fill="url(#bg27)"/><rect x="-20" y="432" width="1576" height="17" fill="url(#bg28)"/><rect x="-20" y="448" width="1576" height="17" fill="url(#bg29)"/><rect x="-20" y="464" width="1576" height="17" fill="url(#bg30)"/><rect x="-20" y="480" width="1576" height="17" fill="url(#bg31)"/><rect x="-20" y="496" width="1576" height="17" fill="url(#bg32)"/><rect x="-20" y="512" width="1576" height="17" fill="url(#bg33)"/><rect x="-20" y="528" width="1576" height="17" fill="url(#bg34)"/><rect x="-20" y="544" width="1576" height="17" fill="url(#bg35)"/><rect x="-20" y="560" width="1576" height="17" fill="url(#bg36)"/><rect x="-20" y="576" width="1576" height="17" fill="url(#bg37)"/><rect x="-20" y="592" width="1576" height="17" fill="url(#bg38)"/><rect x="-20" y="608" width="1576" height="17" fill="url(#bg39)"/><rect x="-20" y="624" width="1576" height="17" fill="url(#bg40)"/><rect x="-20" y="640" width="1576" height="17" fill="url(#bg41)"/><rect x="-20" y="656" width="1576" height="17" fill="url(#bg42)"/><rect x="-20" y="672" width="1576" height="17" fill="url(#bg43)"/><rect x="-20" y="688" width="1576" height="17" fill="url(#bg44)"/><rect x="-20" y="704" width="1576" height="17" fill="url(#bg45)"/><rect x="-20" y="720" width="1576" height="17" fill="url(#bg46)"/><rect x="-20" y="736" width="1576" height="17" fill="url(#bg47)"/><rect x="-20" y="752" width="1576" height="17" fill="url(#bg48)"/><rect x="-20" y="768" width="1576" height="17" fill="url(#bg49)"/><rect x="-20" y="784" width="1576" height="17" fill="url(#bg50)"/><rect x="-20" y="800" width="1576" height="17" fill="url(#bg51)"/><rect x="-20" y="816" width="1576" height="17" fill="url(#bg52)"/><rect x="-20" y="832" width="1576" height="17" fill="url(#bg53)"/><rect x="-20" y="848" width="1576" height="17" fill="url(#bg54)"/><rect x="-20" y="864" width="1576" height="17" fill="url(#bg55)"/><rect x="-20" y="880" width="1576" height="17" fill="url(#bg56)"/><rect x="-20" y="896" width="1576" height="17" fill="url(#bg57)"/><rect x="-20" y="912" width="1576" height="17" fill="url(#bg58)"/><rect x="-20" y="928" width="1576" height="17" fill="url(#bg59)"/><rect x="-20" y="944" width="1576" height="17" fill="url(#bg60)"/><rect x="-20" y="960" width="1576" height="17" fill="url(#bg61)"/><rect x="-20" y="976" width="1576" height="17" fill="url(#bg62)"/><rect x="-20" y="992" width="1576" height="17" fill="url(#bg63)"/><rect x="-20" y="1008" width="1576" height="17" fill="url(#bg64)"/><rect x="-20" y="1024" width="1576" height="17" fill="url(#bg65)"/></g>
<circle cx="1483" cy="312" r="14.5" fill="#ffffff" fill-opacity="0.3" filter="url(#bub)"/>
<circle cx="1483" cy="359" r="9" fill="#ffffff" fill-opacity="0.3" filter="url(#bub)"/>
<circle cx="1459.5" cy="372" r="11" fill="#ffffff" fill-opacity="0.3" filter="url(#bub)"/>
<circle cx="1444" cy="416" r="8" fill="#ffffff" fill-opacity="0.3" filter="url(#bub)"/>
<circle cx="1478" cy="432" r="14" fill="#ffffff" fill-opacity="0.3" filter="url(#bub)"/>
<circle cx="1484" cy="472" r="8" fill="#ffffff" fill-opacity="0.3" filter="url(#bub)"/>
<circle cx="1479.5" cy="556" r="8" fill="#ffffff" fill-opacity="0.3" filter="url(#bub)"/>
<circle cx="1472" cy="599" r="12" fill="#ffffff" fill-opacity="0.3" filter="url(#bub)"/>
<circle cx="1475" cy="627" r="11" fill="#ffffff" fill-opacity="0.3" filter="url(#bub)"/>
<circle cx="1487" cy="677" r="8" fill="#ffffff" fill-opacity="0.3" filter="url(#bub)"/>
<circle cx="1467" cy="698" r="14" fill="#ffffff" fill-opacity="0.3" filter="url(#bub)"/>
<path d="M289.5,39.1 Q285.0,17.6 307.0,17.6 L1213.0,19.4 Q1249.0,19.5 1236.9,53.4 L1204.7,143.5 Q1196.0,168.0 1170.0,167.9 L340.0,165.6 Q316.0,165.5 311.1,142.0 Z" fill="#2b5ba4"/>
<g filter="url(#tsh)">
<text id="t1" x="486.21" y="74.5" font-size="52.76" font-weight="bold" fill="#ffffff" textLength="252.99" lengthAdjust="spacingAndGlyphs" stroke="#ffffff" stroke-width="0.8">Conversão</text>
<text id="t2" x="745.82" y="74.5" font-size="44.85" font-weight="bold" fill="#ffffff" textLength="48.52" lengthAdjust="spacingAndGlyphs" >de</text>
<text id="t3" x="798.59" y="74.5" font-size="52.76" font-weight="bold" fill="#ffffff" textLength="219.22" lengthAdjust="spacingAndGlyphs" stroke="#ffffff" stroke-width="0.8">Unidades</text>
<text id="t4" x="1026.67" y="74.5" font-size="44.85" font-weight="bold" fill="#ffffff" textLength="41.66" lengthAdjust="spacingAndGlyphs" >de</text>
<text id="t5" x="566.68" y="148.4" font-size="78.05" font-weight="bold" fill="#f7a94e" textLength="437.67" lengthAdjust="spacingAndGlyphs" stroke="#f7a94e" stroke-width="1">Capacitància</text>
</g>
<rect x="722.0" y="257.5" width="30.0" height="11.0" fill="#2a58a2"/>
<polygon points="781.0,263.0 750.0,247.0 750.0,279.0" fill="#2a58a2"/>
<rect x="1080.0" y="257.0" width="33.0" height="11.0" fill="#2a58a2"/>
<polygon points="1142.0,262.5 1111.0,246.5 1111.0,278.5" fill="#2a58a2"/>
<rect x="561.0" y="352.0" width="12.0" height="106.0" fill="#2a58a2"/>
<rect x="561.0" y="447.0" width="41.0" height="11.0" fill="#2a58a2"/>
<path d="M622.7,355 L636.4,384.4 Q627.5,394 626.8,408 L626.8,412 L619.3,412 L619.3,408 Q618,394 610.4,384.4 Z" fill="#2a58a2"/>
<rect x="1027.5" y="350.0" width="11.0" height="109.0" fill="#2a58a2"/>
<rect x="962.0" y="445.0" width="71.0" height="11.0" fill="#2a58a2"/>
<polygon points="933.0,450.5 964.0,433.5 964.0,467.5" fill="#2a58a2"/>
<rect x="1028.0" y="448.0" width="64.0" height="11.0" fill="#2a58a2"/>
<polygon points="1121.0,453.5 1090.0,437.5 1090.0,469.5" fill="#2a58a2"/>
<rect x="1280.0" y="352.0" width="10.0" height="28.0" fill="#2a58a2"/>
<polygon points="1285.0,406.0 1269.0,378.0 1301.0,378.0" fill="#2a58a2"/>
<rect x="1280.5" y="548.0" width="11.0" height="27.0" fill="#2a58a2"/>
<polygon points="1286.0,603.0 1270.0,574.0 1302.0,574.0" fill="#2a58a2"/>
<rect x="760.0" y="548.0" width="12.0" height="96.0" fill="#2a58a2"/>
<rect x="760.0" y="632.2" width="40.0" height="11.5" fill="#2a58a2"/>
<polygon points="825.0,638.0 797.0,622.0 797.0,654.0" fill="#2a58a2"/>
<path d="M1103.6,638.5 L1129.4,621.3 L1129.4,632 Q1140,634 1152,638.5 Q1140,643 1129.4,645 L1129.4,654.6 Z" fill="#2a58a2"/>
<rect x="380.0" y="674.0" width="654.0" height="12.0" fill="#2a58a2"/>
<rect x="1022.0" y="674.0" width="12.0" height="50.0" fill="#2a58a2"/>
<polygon points="1028.0,751.0 1011.0,723.0 1045.0,723.0" fill="#2a58a2"/>
<g filter="url(#sh)"><g clip-path="url(#c1000)"><rect x="414.3" y="217" width="309.7" height="73" fill="url(#g2)"/><rect x="414.3" y="290" width="309.7" height="64" fill="url(#g3)"/><rect x="414.3" y="289.25" width="309.7" height="1.5" fill="#3f7b4b" opacity="0.5"/></g><rect x="414.3" y="217" width="309.7" height="137" rx="10" fill="none" stroke="#3f7b4b" stroke-width="2"/></g>
<g filter="url(#sh)"><g clip-path="url(#c1003)"><rect x="782.2" y="215" width="299.79999999999995" height="73" fill="url(#g5)"/><rect x="782.2" y="288" width="299.79999999999995" height="63.60000000000002" fill="url(#g6)"/><rect x="782.2" y="287.25" width="299.79999999999995" height="1.5" fill="#dc7f2c" opacity="0.5"/></g><rect x="782.2" y="215" width="299.79999999999995" height="136.60000000000002" rx="10" fill="none" stroke="#dc7f2c" stroke-width="2"/></g>
<g filter="url(#sh)"><g clip-path="url(#c1006)"><rect x="1143.5" y="216" width="297.70000000000005" height="73.30000000000001" fill="url(#g8)"/><rect x="1143.5" y="289.3" width="297.70000000000005" height="64.30000000000001" fill="url(#g9)"/><rect x="1143.5" y="288.55" width="297.70000000000005" height="1.5" fill="#b44a64" opacity="0.5"/></g><rect x="1143.5" y="216" width="297.70000000000005" height="137.60000000000002" rx="10" fill="none" stroke="#b44a64" stroke-width="2"/></g>
<g filter="url(#sh)"><g clip-path="url(#c1009)"><rect x="600.7" y="411.8" width="328.69999999999993" height="73.09999999999997" fill="url(#g11)"/><rect x="600.7" y="484.9" width="328.69999999999993" height="63.700000000000045" fill="url(#g12)"/><rect x="600.7" y="484.15" width="328.69999999999993" height="1.5" fill="#2c4fa2" opacity="0.5"/></g><rect x="600.7" y="411.8" width="328.69999999999993" height="136.8" rx="10" fill="none" stroke="#2c4fa2" stroke-width="2"/></g>
<g filter="url(#sh)"><g clip-path="url(#c1012)"><rect x="1121.8" y="412" width="323.20000000000005" height="72.60000000000002" fill="url(#g14)"/><rect x="1121.8" y="484.6" width="323.20000000000005" height="64.19999999999993" fill="url(#g15)"/><rect x="1121.8" y="483.85" width="323.20000000000005" height="1.5" fill="#7a3d88" opacity="0.5"/></g><rect x="1121.8" y="412" width="323.20000000000005" height="136.79999999999995" rx="10" fill="none" stroke="#7a3d88" stroke-width="2"/></g>
<rect x="825.3" y="600.7" width="277.70000000000005" height="76.0" rx="10" fill="url(#g16)" stroke="#a83f2f" stroke-width="2" filter="url(#sh)"/>
<rect x="1152" y="604" width="286" height="73" rx="10" fill="url(#g17)" stroke="#b04866" stroke-width="2" filter="url(#sh)"/>
<g filter="url(#sh)"><g clip-path="url(#c1017)"><rect x="827.3" y="752" width="359.70000000000005" height="86.5" fill="url(#g19)"/><rect x="827.3" y="838.5" width="359.70000000000005" height="62.0" fill="url(#g20)"/><rect x="827.3" y="837.75" width="359.70000000000005" height="1.5" fill="#3f7d50" opacity="0.5"/></g><rect x="827.3" y="752" width="359.70000000000005" height="148.5" rx="10" fill="none" stroke="#3f7d50" stroke-width="2"/></g>
<rect x="109.9" y="626.9" width="271.9" height="86.70000000000005" rx="9" fill="url(#g21)" stroke="#2856a0" stroke-width="2" filter="url(#sh)"/>
<rect x="99.3" y="754.8" width="504.7" height="210.2" rx="25" fill="#e8eff7" fill-opacity="0.97" filter="url(#sh)"/>
<rect x="133.4" y="824.7" width="440.6" height="1.5" fill="#b9d0e6"/>
<rect x="133.4" y="888" width="440.6" height="1.5" fill="#b9d0e6"/>
<g filter="url(#tsh)">
<text id="t6" x="490.22" y="273.0" font-size="45.49" font-weight="bold" fill="#ffffff" textLength="165.18" lengthAdjust="spacingAndGlyphs" >Farad (F)</text>
<text id="t7" x="805.63" y="271.6" font-size="45.06" font-weight="bold" fill="#ffffff" textLength="256.15" lengthAdjust="spacingAndGlyphs" >MiliFarad (mF)</text>
<text id="t8" x="1162.68" y="271.6" font-size="43.60" font-weight="bold" fill="#ffffff" textLength="265.63" lengthAdjust="spacingAndGlyphs" >MicroFarad (µF)</text>
<text id="t9" x="631.45" y="468.0" font-size="44.19" font-weight="bold" fill="#ffffff" textLength="269.28" lengthAdjust="spacingAndGlyphs" >MicroFarad (µF)</text>
<text id="t10" x="1148.65" y="468.6" font-size="44.77" font-weight="bold" fill="#ffffff" textLength="274.70" lengthAdjust="spacingAndGlyphs" >NanoFarad (nF)</text>
<text id="t11" x="849.79" y="654.8" font-size="40.41" font-weight="bold" fill="#ffffff" textLength="234.04" lengthAdjust="spacingAndGlyphs" >PicoFarad (pF)</text>
<text id="t12" x="855.65" y="813.6" font-size="44.91" font-weight="bold" fill="#ffffff" textLength="308.69" lengthAdjust="spacingAndGlyphs" >Ampere Hora(Ah)</text>
<text id="t13" x="132.46" y="692.5" font-size="51.74" font-weight="bold" fill="#ffffff" textLength="186.09" lengthAdjust="spacingAndGlyphs" >Q = C   V</text>
<circle cx="270" cy="674.4" r="3.6" fill="#fff"/>
<text id="t14" x="1179.92" y="653.0" font-size="34.88" font-weight="normal" fill="#ffffff" textLength="219.13" lengthAdjust="spacingAndGlyphs" ><tspan font-weight="normal" stroke="#ffffff" stroke-width="0.7">1.000 pF = </tspan><tspan font-weight="bold">1 nF</tspan></text>
</g>
<text id="t15" x="435.17" y="331.0" font-size="27.62" font-weight="bold" fill="#1c3c6c" textLength="275.66" lengthAdjust="spacingAndGlyphs" >1 F = 1.000 mF = 1×10<tspan dy="-9" font-size="16">6</tspan><tspan dy="9">µF</tspan></text>
<text id="t16" x="837.09" y="330.0" font-size="29.80" font-weight="bold" fill="#1c3c6c" textLength="205.01" lengthAdjust="spacingAndGlyphs" >1 mF = 1.000 µF</text>
<text id="t17" x="1191.08" y="331.5" font-size="30.52" font-weight="bold" fill="#1c3c6c" textLength="206.84" lengthAdjust="spacingAndGlyphs" >1 µF = 1.000 nF</text>
<text id="t18" x="658.64" y="527.8" font-size="31.98" font-weight="bold" fill="#1c3c6c" textLength="212.54" lengthAdjust="spacingAndGlyphs" >1 µF = 1.000 nF</text>
<text id="t19" x="1173.03" y="528.5" font-size="31.98" font-weight="bold" fill="#1c3c6c" textLength="220.94" lengthAdjust="spacingAndGlyphs" >1 nF = 1.000 pF</text>
<text id="t20" x="902.01" y="880.0" font-size="32.99" font-weight="bold" fill="#1c3c6c" textLength="213.01" lengthAdjust="spacingAndGlyphs" >1 Ah = 3.000 C</text>
<text id="t21" x="66.68" y="456.6" font-size="50.87" font-weight="bold" fill="#1c3c6c" textLength="173.64" lengthAdjust="spacingAndGlyphs" >Q = C   V</text>
<circle cx="196.3" cy="438.5" r="3.6" fill="#1c3c6c"/>
<text id="t22" x="66.26" y="510.4" font-size="24.71" font-weight="normal" fill="#1c3c6c" textLength="196.28" lengthAdjust="spacingAndGlyphs" stroke="#1c3c6c" stroke-width="0.5">Q = Carga elétrića</text>
<text id="t23" x="66.26" y="546.9" font-size="24.71" font-weight="normal" fill="#1c3c6c" textLength="187.08" lengthAdjust="spacingAndGlyphs" stroke="#1c3c6c" stroke-width="0.5">C = Capacitancĩa</text>
<text id="t24" x="67.26" y="583.6" font-size="24.71" font-weight="normal" fill="#1c3c6c" textLength="117.48" lengthAdjust="spacingAndGlyphs" stroke="#1c3c6c" stroke-width="0.5">V = Tensóo</text>
<circle cx="140" cy="796.3" r="5" fill="#1c3c6c"/>
<circle cx="140" cy="858" r="5" fill="#1c3c6c"/>
<circle cx="140" cy="924" r="5" fill="#1c3c6c"/>
<text id="t25" x="155.60" y="805.0" font-size="33.14" font-weight="bold" fill="#1c3c6c" textLength="189.21" lengthAdjust="spacingAndGlyphs" >1 Farad = 1 F</text>
<text id="t26" x="155.61" y="867.3" font-size="33.14" font-weight="bold" fill="#1c3c6c" textLength="316.40" lengthAdjust="spacingAndGlyphs" >1 MicroFarad = 10<tspan dy="-13" font-size="20" font-weight="normal">-6</tspan><tspan dy="13"> F</tspan></text>
<text id="t27" x="155.60" y="934.0" font-size="33.14" font-weight="bold" fill="#1c3c6c" textLength="307.40" lengthAdjust="spacingAndGlyphs" >1 PicoFarad = 10<tspan dy="-13" font-size="20" font-weight="normal">-12</tspan><tspan dy="13"> F</tspan></text>

<defs>
 <linearGradient id="orL" x1="0" y1="0" x2="1" y2="0">
  <stop offset="0" stop-color="#fcc444"/><stop offset="0.6" stop-color="#f9b42c"/><stop offset="1" stop-color="#f3a01e"/>
 </linearGradient>
 <linearGradient id="orV" x1="0" y1="0" x2="0" y2="1">
  <stop offset="0" stop-color="#fcc848" stop-opacity="0"/><stop offset="1" stop-color="#f39420" stop-opacity="0.6"/>
 </linearGradient>
 <linearGradient id="orSide" x1="0" y1="0" x2="1" y2="0">
  <stop offset="0" stop-color="#ef8a1c"/><stop offset="1" stop-color="#d8640e"/>
 </linearGradient>
 <linearGradient id="arcB" x1="0" y1="0" x2="1" y2="0">
  <stop offset="0" stop-color="#58b4f6"/><stop offset="1" stop-color="#3e8fe0"/>
 </linearGradient>
 <radialGradient id="dotO" cx="0.4" cy="0.4" r="0.6">
  <stop offset="0" stop-color="#fbd0a0"/><stop offset="0.5" stop-color="#f2a050"/><stop offset="1" stop-color="#e0802e"/>
 </radialGradient>
</defs>
<g id="capacitor">
 <ellipse cx="240.6" cy="370.6" rx="108" ry="13.5" fill="#3f78c4" fill-opacity="0.3"/>
 <path d="M115,362 C140,352 170,350 190,352" stroke="#4a82c8" stroke-opacity="0.35" stroke-width="4" fill="none"/>
 <!-- left swirl -->
 <path d="M144,240 C130,255 108,280 104,305 C102,322 110,332 124,338 C135,342 145,344 153,344" stroke="#eaf4ff" stroke-opacity="0.7" stroke-width="3.5" fill="none"/>
 <path d="M96,300 C110,260 135,240 150,232" stroke="#9ccaf0" stroke-opacity="0.6" stroke-width="2.5" fill="none"/>
 <!-- top blue arc -->
 <path d="M153.7,184 C150,150 170,132 200,132 C225,132 240,145 250,160" stroke="url(#arcB)" stroke-width="5.5" fill="none" stroke-linecap="round"/>
 <path d="M228,184 C226,170 238,160 252,163 C262,166 266,175 265,184" stroke="#a8d4f6" stroke-width="2" fill="none"/>
 <path d="M232,166 C242,170 250,168 258,158" stroke="#ffffff" stroke-opacity="0.8" stroke-width="2" fill="none"/>
 <path d="M258,156 L245,128" stroke="#ffffff" stroke-opacity="0.5" stroke-width="1" fill="none"/>
 <!-- right swirls -->
 <path d="M336.9,187.6 C352,192 364,200 360,212 C356,222 340,226 321,231" stroke="#ffffff" stroke-width="5" fill="none" stroke-linecap="round"/>
 <path d="M334.5,247 C326,256 326,272 337,290 C350,305 368,318 360,330 C352,340 340,342 330,343" stroke="#5aa2e8" stroke-opacity="0.75" stroke-width="3" fill="none"/>
 <path d="M344.5,265 C335,272 328,276 319,278" stroke="#ffffff" stroke-width="5" fill="none" stroke-linecap="round"/>
 <!-- legs -->
 <rect x="168.5" y="331" width="35" height="9" rx="2" fill="#3868b6"/>
 <rect x="268.7" y="337" width="51" height="9" rx="2" fill="#3868b6"/>
 <rect x="173" y="334" width="11.4" height="41" rx="5.5" fill="#2c5cae"/>
 <rect x="203.7" y="334" width="10.6" height="33" rx="5.3" fill="#2c5cae"/>
 <rect x="275.8" y="340" width="10.5" height="41" rx="5.2" fill="#2c5cae"/>
 <rect x="297.8" y="340" width="10.5" height="32" rx="5.2" fill="#2c5cae"/>
 <rect x="175" y="336" width="3" height="34" fill="#4f86d2" opacity="0.6"/>
 <!-- middle blue block -->
 <rect x="198" y="184" width="67" height="153" rx="5" fill="#2f78d4"/>
 <rect x="200" y="232" width="64" height="64" fill="#b64410"/>
 <rect x="244" y="232" width="20" height="64" fill="#2a60b0"/>
 <rect x="198" y="184" width="67" height="12" rx="5" fill="#62aef2"/>
 <rect x="204" y="194" width="58" height="35" fill="#2a78d8"/>
 <rect x="206" y="210" width="54" height="2.5" fill="#d8ecfc"/>
 <rect x="204" y="227.5" width="58" height="2.5" fill="#a6d4fa"/>
 <rect x="230" y="197" width="11" height="98" rx="2" fill="#5ab0f4"/>
 <rect x="204.6" y="245" width="59" height="7" rx="3" fill="#3f8ee4"/>
 <rect x="204.6" y="261.6" width="59" height="7" rx="3" fill="#3f8ee4"/>
 <rect x="204.6" y="278.3" width="59" height="7" rx="3" fill="#3f8ee4"/>
 <rect x="204.6" y="245" width="59" height="2" fill="#7cc0f8"/>
 <rect x="204.6" y="261.6" width="59" height="2" fill="#7cc0f8"/>
 <rect x="204.6" y="278.3" width="59" height="2" fill="#7cc0f8"/>
 <rect x="229" y="232" width="15" height="63" fill="#3a8ae4"/>
 <rect x="200" y="295" width="64.4" height="40.5" rx="4" fill="#2d74d2"/>
 <rect x="200" y="295" width="64.4" height="4" rx="2" fill="#5aa5ee"/>
 <rect x="204" y="300" width="56" height="28" rx="2" fill="#3580da"/>
 <!-- left orange block -->
 <path d="M188,183 L203,184 L203.7,333 L188,333.7 Z" fill="url(#orSide)"/>
 <path d="M155,184 Q170,180 192,181.4 L192,333.7 L156,332 Q154.5,331 154.5,328 Z" fill="url(#orL)"/>
 <path d="M155,184 Q170,180 192,181.4 L192,333.7 L156,332 Q154.5,331 154.5,328 Z" fill="url(#orV)"/>
 <rect x="173" y="186" width="3" height="142" fill="#f09a22" opacity="0.8"/>
 <rect x="176" y="186" width="7" height="142" fill="#fde0a0" opacity="0.45"/>
 <path d="M155,184 Q170,180 192,181.4 L203,184 L192,187 L156,188 Z" fill="#fdd060" opacity="0.8"/>
 <!-- right orange block -->
 <path d="M264,180 Q290,176 318,179 L319.7,338 Q300,341 266,340 L264.4,336 Z" fill="url(#orL)"/>
 <path d="M264,180 Q290,176 318,179 L319.7,338 Q300,341 266,340 L264.4,336 Z" fill="url(#orV)"/>
 <path d="M264,180 Q290,176 318,179 L318,186 Q290,183 264,187 Z" fill="#fdd466"/>
 <rect x="273" y="186" width="2" height="150" fill="#f0901e" opacity="0.8"/>
 <rect x="286.5" y="186" width="6" height="152" fill="#ee8418"/>
 <rect x="318" y="186" width="3" height="150" fill="#3a8ae4" opacity="0.8"/>
 <!-- orange dots -->
 <circle cx="259" cy="156.7" r="6" fill="url(#dotO)"/>
 <ellipse cx="235" cy="163" rx="6" ry="4.5" fill="#f6d8b6"/>
 <circle cx="344.5" cy="265" r="6.5" fill="url(#dotO)"/>
 <circle cx="120" cy="333.7" r="6.5" fill="url(#dotO)"/>
</g>

</svg>
</body></html>
